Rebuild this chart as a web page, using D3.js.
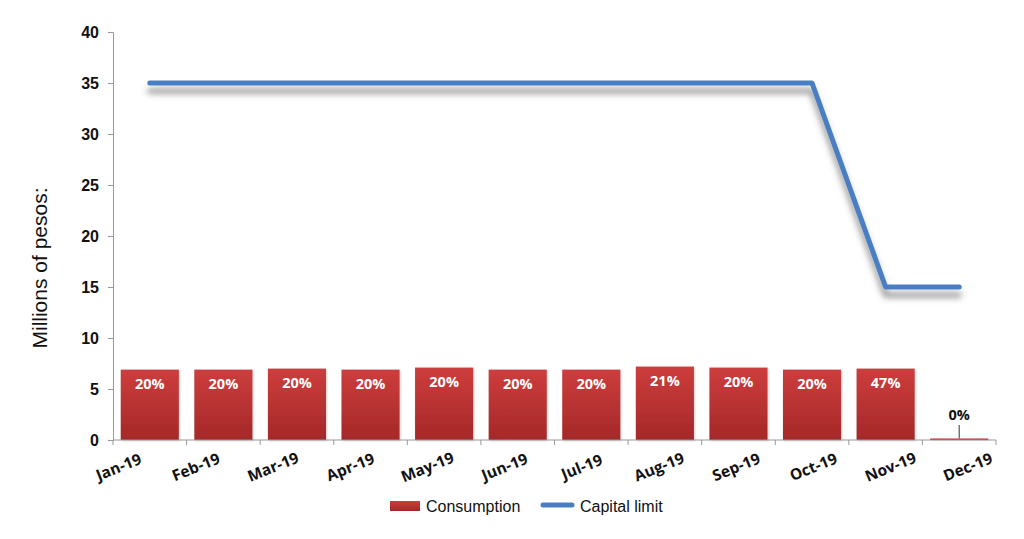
<!DOCTYPE html>
<html><head><meta charset="utf-8">
<script src="https://cdn.jsdelivr.net/npm/d3@7"></script>
<style>body{margin:0;background:#fff}svg{display:block}</style>
</head><body>
<svg id="c" width="1024" height="539"></svg>
<script>
const months = ["Jan-19","Feb-19","Mar-19","Apr-19","May-19","Jun-19","Jul-19","Aug-19","Sep-19","Oct-19","Nov-19","Dec-19"];
const consumption = [6.9,6.9,7.0,6.9,7.1,6.9,6.9,7.2,7.1,6.9,7.0,0.15];
const capitalLimit = [35,35,35,35,35,35,35,35,35,35,15,15];
const pctLabels = ["20%","20%","20%","20%","20%","20%","20%","21%","20%","20%","47%","0%"];
const yTicks = [0,5,10,15,20,25,30,35,40];

const svg = d3.select("#c");
const L = 113, R = 996, T = 32, B = 440;
const x = d3.scaleBand().domain(months).range([L, R]).paddingInner(0.21).paddingOuter(0.105);
const y = d3.scaleLinear().domain([0, 40]).range([B, T]);

const defs = svg.append("defs");
const g = defs.append("linearGradient").attr("id","bar").attr("x1",0).attr("y1",0).attr("x2",0).attr("y2",1);
g.append("stop").attr("offset","0%").attr("stop-color","#cd3d3d");
g.append("stop").attr("offset","100%").attr("stop-color","#a52828");
const f = defs.append("filter").attr("id","sh").attr("x","-10%").attr("y","-50%").attr("width","120%").attr("height","200%");
f.append("feDropShadow").attr("dx",0).attr("dy",8).attr("stdDeviation",3).attr("flood-color","#444").attr("flood-opacity",0.6);
const fb = defs.append("filter").attr("id","bsh").attr("x","-10%").attr("y","-10%").attr("width","130%").attr("height","130%");
fb.append("feDropShadow").attr("dx",1).attr("dy",1).attr("stdDeviation",1).attr("flood-color","#888").attr("flood-opacity",0.4);

// y axis
const ya = svg.append("g").attr("transform",`translate(${L},0)`)
  .call(d3.axisLeft(y).tickValues(yTicks).tickSize(5).tickPadding(9));
ya.select(".domain").attr("stroke","#999");
ya.selectAll(".tick line").attr("stroke","#999");
ya.selectAll(".tick text").attr("font-family","Liberation Sans, Arial, sans-serif").attr("font-weight","bold").attr("font-size","16px").attr("fill","#111");

svg.append("text").attr("transform",`translate(47,268) rotate(-90)`)
  .attr("text-anchor","middle").attr("font-family","Liberation Sans, Arial, sans-serif")
  .attr("font-size","21px").attr("fill","#111").text("Millions of pesos:");

// bars
svg.append("g").selectAll("rect").data(months).join("rect")
  .attr("x", d => x(d)).attr("width", x.bandwidth())
  .attr("y", (d,i) => y(consumption[i])).attr("height", (d,i) => B - y(consumption[i]))
  .attr("fill","url(#bar)").attr("filter","url(#bsh)");

// x axis
const step = x.step();
const xa = svg.append("g");
xa.append("line").attr("x1",L).attr("x2",R).attr("y1",B).attr("y2",B).attr("stroke","#999");
const boundaries = d3.range(months.length+1).map(i => L + i*step);
xa.selectAll(".tk").data(boundaries).join("line").attr("class","tk")
  .attr("x1",d=>d).attr("x2",d=>d).attr("y1",B).attr("y2",B+5).attr("stroke","#999");
xa.selectAll(".lbl").data(months).join("text").attr("class","lbl")
  .attr("transform",(d,i) => `translate(${x(d)+x.bandwidth()/2 - 29 + i*3.6},${B+32}) rotate(-22)`)
  .attr("text-anchor","middle").attr("font-family","Open Sans, sans-serif").attr("font-weight","bold")
  .attr("font-size","15.5px").attr("fill","#111").text(d=>d);

// pct labels
svg.append("g").selectAll("text").data(months).join("text")
  .attr("x", d => x(d)+x.bandwidth()/2)
  .attr("y", (d,i) => i===11 ? 420 : y(consumption[i]) + 19)
  .attr("text-anchor","middle").attr("font-family","Open Sans, sans-serif").attr("font-weight","bold")
  .attr("font-size","14.5px").attr("fill",(d,i)=> i===11 ? "#111" : "#fff").text((d,i)=>pctLabels[i]);
svg.append("line").attr("x1",x("Dec-19")+x.bandwidth()/2).attr("x2",x("Dec-19")+x.bandwidth()/2)
  .attr("y1",425).attr("y2",y(consumption[11])).attr("stroke","#555").attr("stroke-width",1.2);

// line
const line = d3.line().x((d,i)=>x(months[i])+x.bandwidth()/2).y(d=>y(d));
svg.append("path").datum(capitalLimit).attr("d",line).attr("fill","none")
  .attr("stroke","#4a7ec3").attr("stroke-width",5).attr("stroke-linecap","round").attr("stroke-linejoin","round")
  .attr("filter","url(#sh)");

// legend
const lg = svg.append("g").attr("font-family","Liberation Sans, Arial, sans-serif").attr("font-size","16px").attr("fill","#111");
lg.append("rect").attr("x",390).attr("y",501).attr("width",30).attr("height",10).attr("fill","url(#bar)");
lg.append("text").attr("x",426).attr("y",512).text("Consumption");
lg.append("line").attr("x1",543).attr("x2",572).attr("y1",505).attr("y2",505).attr("stroke","#4a7ec3").attr("stroke-width",5).attr("stroke-linecap","round");
lg.append("text").attr("x",580).attr("y",512).text("Capital limit");
</script>
</body></html>
